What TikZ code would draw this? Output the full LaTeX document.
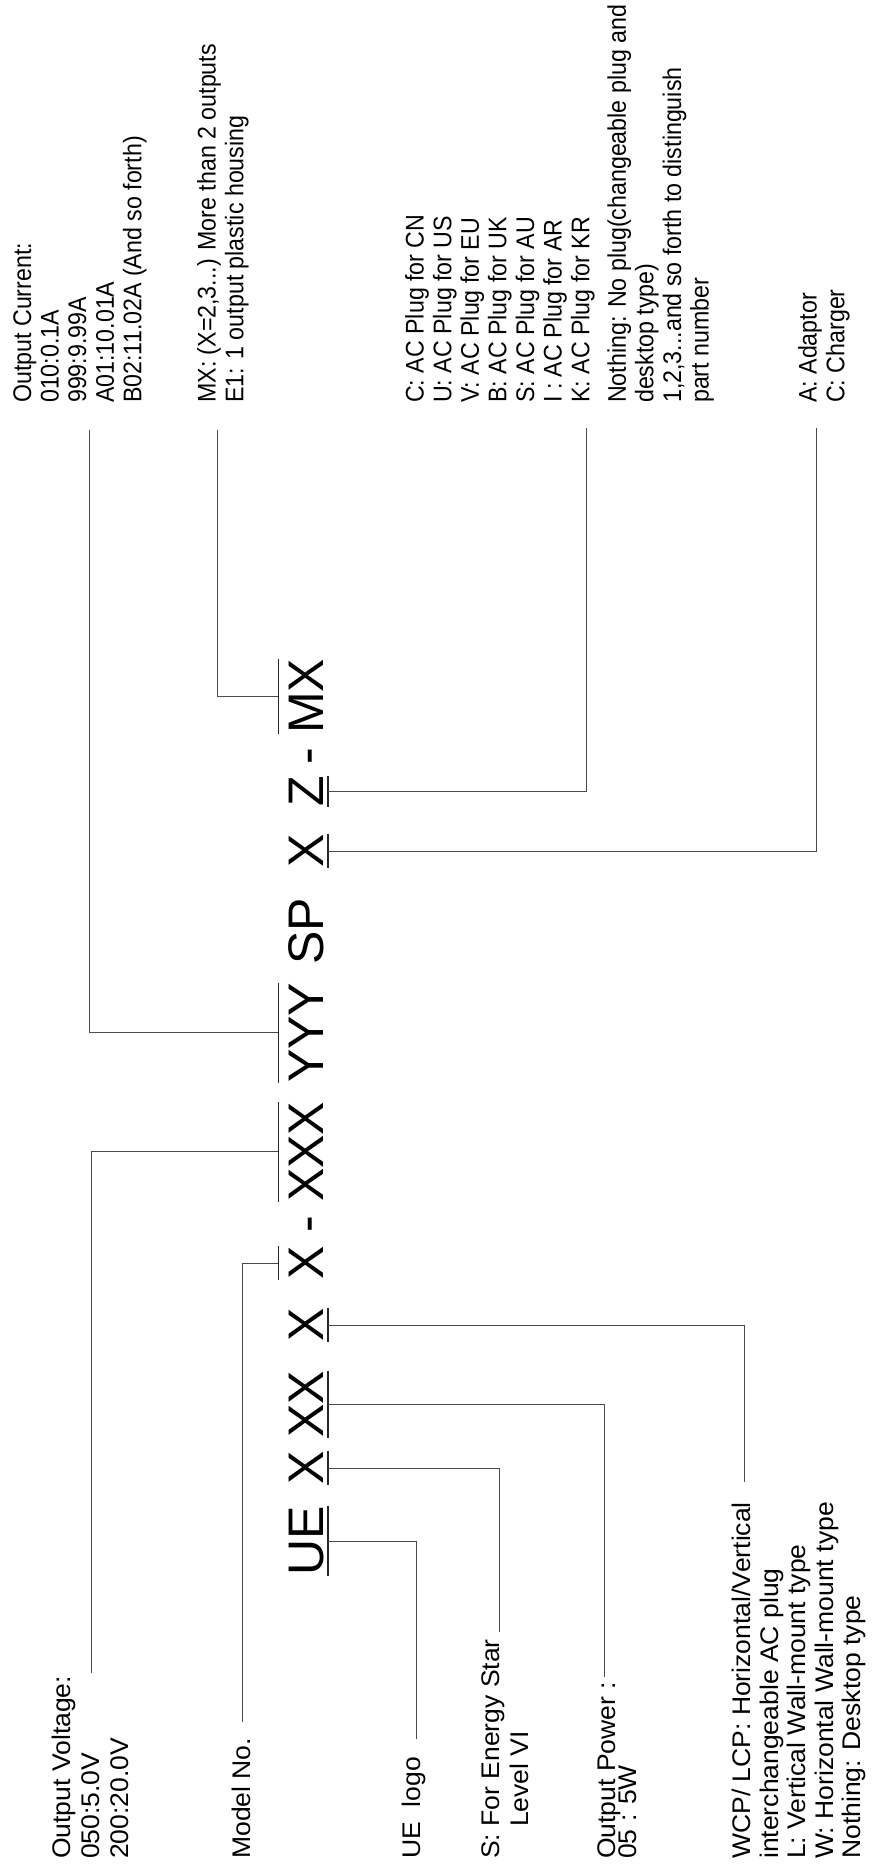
\documentclass[tikz,border=0pt]{standalone}
\usepackage{fontspec}
\setmainfont{Liberation Sans}
\newfontfamily\widefont[FakeStretch=1.04]{Liberation Sans}
\newfontfamily\narrowfont[FakeStretch=0.91]{Liberation Sans}
\usepackage{tikz}

\tikzset{
  codetext/.style={rotate=90, inner sep=0pt, anchor=base west,
    font=\fontsize{50}{50}\selectfont},
  lowlabel/.style={rotate=90, inner sep=0pt, anchor=north west, align=left,
    font=\widefont\fontsize{25.5}{29}\selectfont},
  highlabel/.style={rotate=90, inner sep=0pt, anchor=north west, align=left,
    font=\narrowfont\fontsize{25.5}{27.6}\selectfont},
  codetick/.style={line width=1.6pt, black!85},
  leader/.style={line width=0.9pt, black!70}
}

\begin{document}
\begin{tikzpicture}[x=1pt,y=-1pt]

\useasboundingbox (0,0) rectangle (871,1869);

% Geometry constants
\def\base{323}        % baseline of the model code
\def\low{1859}        % start of the lower labels
\def\high{403}        % start of the upper labels

% Model code
\node[codetext] (ue)       at (\base,1576) {UE};
\node[codetext] (star)     at (\base,1485) {X};
\node[codetext] (power)    at (\base,1438) {XX};
\node[codetext] (plugtype) at (\base,1342) {X};
\node[codetext] (model)    at (\base,1280) {X};
\node[codetext] (dasha)    at (\base,1233) {-};
\node[codetext] (volt)     at (\base,1202) {XXX};
\node[codetext] (curr)     at (\base,1083) {YYY};
\node[codetext] (sp)       at (\base,965)  {SP};
\node[codetext] (kind)     at (\base,868)  {X};
\node[codetext] (plug)     at (\base,807)  {Z};
\node[codetext] (dashb)    at (\base,765)  {-};
\node[codetext] (mx)       at (\base,734)  {MX};

% Marks beside the code letters
\foreach \n in {ue,star,power,plugtype,kind,plug}
  \draw[codetick] ([xshift=5pt]\n.base west) -- ([xshift=5pt]\n.base east);
\foreach \n in {model,volt,curr,mx}
  \draw[codetick] ([xshift=-10pt]\n.north west) -- ([xshift=-10pt]\n.north east);

% Lower labels
\node[lowlabel] (voltlabel) at (52,\low) {Output Voltage:\\050:5.0V\\200:20.0V};
\node[lowlabel] (modellabel) at (232,\low) {Model No.};
\node[lowlabel] (uelabel) at (402,\low) {UE\ \ logo};
\node[lowlabel] (starlabel) at (481,\low)
    {S: For Energy Star\\\hspace*{1.25em}Level VI};
\node[lowlabel] (powerlabel) at (597,\low) {Output Power :\\[-8pt]05 : 5W};
\node[lowlabel, font=\widefont\fontsize{25.5}{27.5}\selectfont] (typelabel) at (732,\low)
    {WCP/ LCP: Horizontal/Vertical\\interchangeable AC plug\\
     L: Vertical Wall-mount type\\W: Horizontal Wall-mount type\\
     Nothing: Desktop type};

% Upper labels
\node[highlabel] (currlabel) at (13,\high)
    {Output Current:\\010:0.1A\\999:9.99A\\A01:10.01A\\B02:11.02A (And so forth)};
\node[highlabel] (mxlabel) at (197,\high)
    {MX: (X=2,3...) More than 2 outputs\\E1: 1 output plastic housing};
\node[highlabel] (pluglabel) at (405,\high)
    {C: AC Plug for CN\\U: AC Plug for US\\V: AC Plug for EU\\B: AC Plug for UK\\
     S: AC Plug for AU\\I : AC Plug for AR\\K: AC Plug for KR\\[9pt]
     Nothing: No plug(changeable plug and\\desktop type)\\
     1,2,3...and so forth to distinguish\\part number};
\node[highlabel] (kindlabel) at (798,\high) {A: Adaptor\\C: Charger};

% Ends of the leader lines
\coordinate (ue-end)       at (416,1739);
\coordinate (star-end)     at (499,1632);
\coordinate (power-end)    at (604,1677);
\coordinate (plugtype-end) at (744,1482);
\coordinate (model-end)    at (242,1722);
\coordinate (volt-end)     at (91,1673);
\coordinate (curr-end)     at (89,430);
\coordinate (mx-end)       at (217,430);
\coordinate (plug-end)     at (586,428);
\coordinate (kind-end)     at (816,428);

% Leader lines
\foreach \n in {ue,star,power,plugtype,kind,plug}
  \draw[leader] ([xshift=5pt]\n.base) -| (\n-end);
\foreach \n in {model,volt,curr,mx}
  \draw[leader] ([xshift=-10pt]\n.north) -| (\n-end);

\end{tikzpicture}
\end{document}
